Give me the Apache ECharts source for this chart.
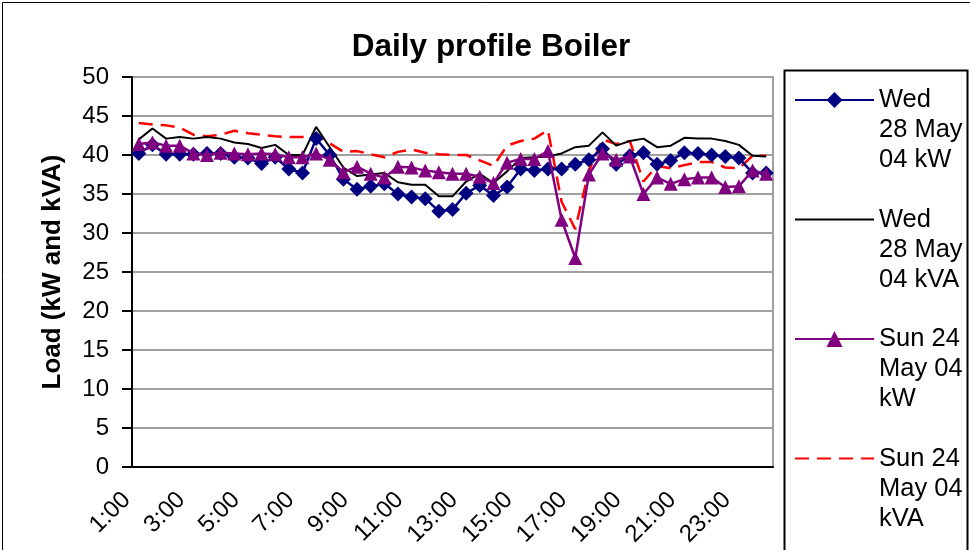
<!DOCTYPE html>
<html>
<head>
<meta charset="utf-8">
<script src="https://cdn.jsdelivr.net/npm/echarts@6/dist/echarts.min.js"></script>
<style>
  html, body { margin: 0; padding: 0; background: #fff; }
  #chart { width: 970px; height: 550px; }
</style>
</head>
<body>
<div id="chart"></div>
<script>
// half-hour readings, 1:00 .. 24:00
var times = ['1:00', '1:30', '2:00', '2:30', '3:00', '3:30', '4:00', '4:30', '5:00', '5:30',
    '6:00', '6:30', '7:00', '7:30', '8:00', '8:30', '9:00', '9:30', '10:00', '10:30',
    '11:00', '11:30', '12:00', '12:30', '13:00', '13:30', '14:00', '14:30', '15:00', '15:30',
    '16:00', '16:30', '17:00', '17:30', '18:00', '18:30', '19:00', '19:30', '20:00', '20:30',
    '21:00', '21:30', '22:00', '22:30', '23:00', '23:30', '24:00'];

var wedKW = [40.2, 41.3, 40.1, 40.1, 40.1, 40.2, 40.2, 39.7, 39.6, 38.9,
    39.7, 38.2, 37.7, 42.1, 40.0, 36.9, 35.6, 36.0, 36.3, 35.0,
    34.6, 34.4, 32.8, 33.0, 35.1, 36.1, 34.8, 35.9, 38.2, 38.0,
    38.2, 38.2, 38.8, 39.4, 40.8, 38.8, 39.9, 40.3, 38.8, 39.3,
    40.3, 40.2, 40.0, 39.8, 39.6, 37.7, 37.7];

var wedKVA = [42.0, 43.4, 42.1, 42.3, 42.1, 42.3, 42.1, 41.6, 41.4, 40.9,
    41.3, 40.0, 40.0, 43.6, 41.0, 38.4, 37.3, 37.5, 37.7, 36.5,
    36.2, 36.2, 34.7, 34.7, 36.6, 37.6, 36.4, 37.9, 39.6, 39.7,
    39.8, 40.2, 41.0, 41.2, 42.9, 41.2, 41.8, 42.1, 41.0, 41.2,
    42.2, 42.1, 42.1, 41.8, 41.3, 39.9, 39.8];

var sunKW = [41.4, 41.6, 41.2, 41.2, 40.2, 40.0, 40.3, 40.2, 40.1, 40.2,
    40.1, 39.7, 39.7, 40.2, 39.4, 37.8, 38.5, 37.6, 37.1, 38.5,
    38.4, 38.0, 37.8, 37.6, 37.6, 37.2, 36.4, 39.0, 39.5, 39.5,
    40.5, 31.7, 26.8, 37.5, 40.2, 39.4, 39.8, 35.0, 37.1, 36.3,
    36.9, 37.1, 37.1, 35.9, 36.0, 38.0, 37.6];

var sunKVA = [44.1, 43.9, 43.8, 43.5, 42.6, 42.4, 42.6, 43.1, 42.8, 42.6,
    42.4, 42.3, 42.3, 42.7, 41.5, 40.4, 40.5, 40.1, 39.7, 40.4,
    40.7, 40.3, 40.1, 40.0, 40.0, 39.3, 38.6, 41.2, 41.8, 42.1,
    43.2, 34.0, 30.5, 38.0, 42.0, 41.4, 41.8, 36.6, 38.6, 38.3,
    38.7, 39.1, 39.1, 38.4, 38.3, 39.9, 39.9];

var names = ['Wed 28 May 04 kW', 'Wed 28 May 04 kVA', 'Sun 24 May 04 kW', 'Sun 24 May 04 kVA'];
// how the legend wraps each name (two blank lines first so the icon sits on the first line)
var legendText = {
    'Wed 28 May 04 kW': '\n\nWed\n28 May\n04 kW',
    'Wed 28 May 04 kVA': '\n\nWed\n28 May\n04 kVA',
    'Sun 24 May 04 kW': '\n\nSun 24\nMay 04\nkW',
    'Sun 24 May 04 kVA': '\n\nSun 24\nMay 04\nkVA'
};

var font = 'Liberation Sans, Arial, sans-serif';
var myChart = echarts.init(document.getElementById('chart'));

var option = {
    animation: false,
    backgroundColor: '#fff',
    title: {
        text: 'Daily profile Boiler',
        left: 486,
        top: 26,
        textAlign: 'center',
        textStyle: { fontFamily: font, fontSize: 31.5, fontWeight: 'bold', color: '#000' }
    },
    legend: {
        orient: 'vertical',
        left: 789,
        top: 20,
        itemWidth: 79,
        itemHeight: 20,
        itemGap: -30.5,
        data: [
            { name: names[0] },
            { name: names[1], itemStyle: { opacity: 0 } },
            { name: names[2] },
            { name: names[3], itemStyle: { opacity: 0 } }
        ],
        formatter: function (name) { return legendText[name]; },
        textStyle: { fontFamily: font, fontSize: 25.5, lineHeight: 30, color: '#000' }
    },
    grid: {
        left: 132,
        right: 197,
        top: 77,
        bottom: 83,
        show: true,
        borderColor: '#a0a0a0',
        borderWidth: 2
    },
    xAxis: {
        type: 'category',
        data: times,
        boundaryGap: true,
        axisLine: { lineStyle: { color: '#000', width: 2 } },
        axisTick: { interval: 0, length: 6, lineStyle: { color: '#000', width: 2 } },
        axisLabel: {
            interval: 3,
            rotate: 45,
            margin: 17,
            padding: [0, 17, 0, 0],
            color: '#000',
            fontFamily: font,
            fontSize: 24
        },
        splitLine: { show: false }
    },
    yAxis: {
        type: 'value',
        min: 0,
        max: 50,
        interval: 5,
        name: 'Load (kW and kVA)',
        nameLocation: 'middle',
        nameGap: 66,
        nameTextStyle: { fontFamily: font, fontSize: 26, fontWeight: 'bold', color: '#000' },
        axisLine: { show: true, lineStyle: { color: '#000', width: 2 } },
        axisTick: { show: true, length: 10, lineStyle: { color: '#000', width: 2 } },
        axisLabel: { color: '#000', fontFamily: font, fontSize: 24, margin: 23 },
        splitLine: { lineStyle: { color: '#a0a0a0', width: 2 } }
    },
    series: [{
        name: names[0],
        type: 'line',
        data: wedKW,
        symbol: 'diamond',
        symbolSize: 15,
        showAllSymbol: true,
        itemStyle: { color: '#000080' },
        lineStyle: { color: '#000080', width: 2.5 },
        z: 4
    }, {
        name: names[1],
        type: 'line',
        data: wedKVA,
        symbol: 'none',
        itemStyle: { color: '#000' },
        lineStyle: { color: '#000', width: 2 },
        z: 3
    }, {
        name: names[2],
        type: 'line',
        data: sunKW,
        symbol: 'triangle',
        symbolSize: 14,
        showAllSymbol: true,
        itemStyle: { color: '#800080' },
        lineStyle: { color: '#800080', width: 2.5 },
        z: 5
    }, {
        name: names[3],
        type: 'line',
        data: sunKVA,
        symbol: 'none',
        itemStyle: { color: '#ff0000' },
        lineStyle: { color: '#ff0000', width: 2.5, type: [14, 8] },
        z: 2
    }],
    graphic: [{
        // legend frame
        type: 'rect',
        left: 782,
        top: 68,
        shape: { width: 183, height: 500 },
        style: { fill: null, stroke: '#000', lineWidth: 2 },
        silent: true
    }, {
        // chart area frame
        type: 'rect',
        left: 0,
        top: 0,
        shape: { width: 969, height: 549 },
        style: { fill: null, stroke: '#000', lineWidth: 1 },
        silent: true
    }]
};

myChart.setOption(option);
</script>
</body>
</html>
